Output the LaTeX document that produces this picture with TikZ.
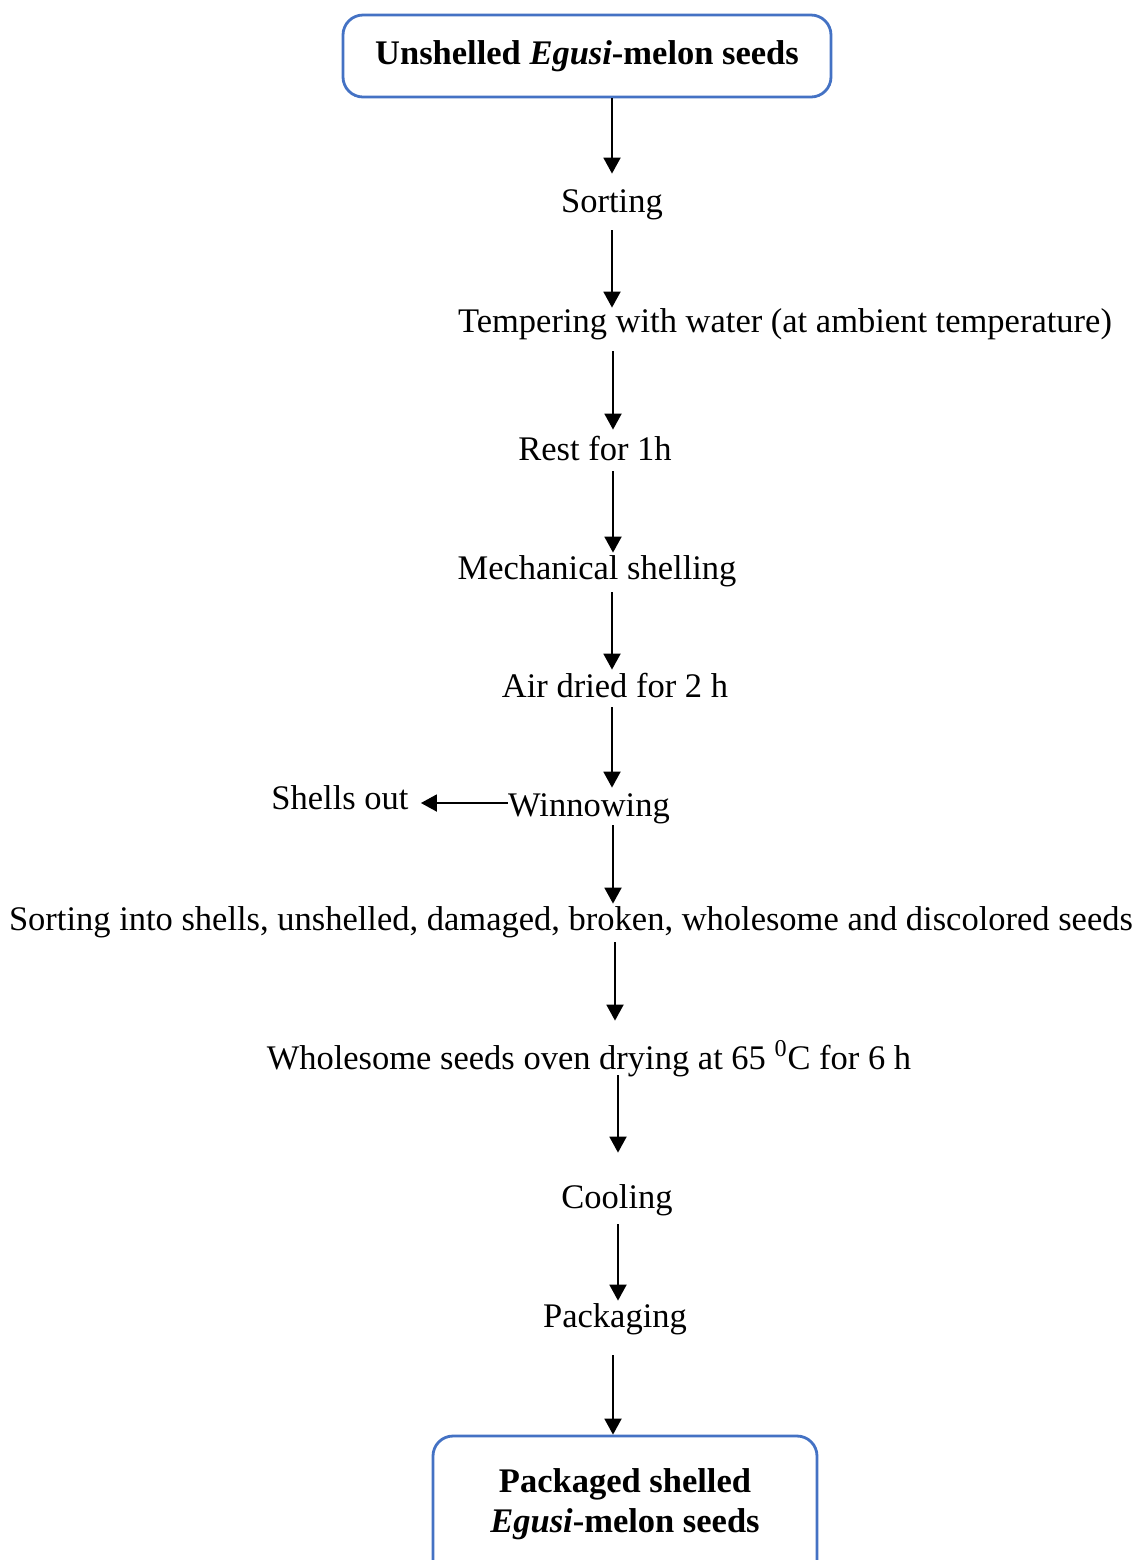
\documentclass[tikz,border=0pt]{standalone}
\usepackage{fontspec}
\setmainfont{Liberation Serif}
\usetikzlibrary{arrows.meta}
\definecolor{boxblue}{HTML}{4472C4}
\tikzset{
  lbl/.style={anchor=base, inner sep=0pt, text height=13pt, text depth=6.5pt, font=\fontsize{17.25}{20}\selectfont},
  flowbox/.style={draw=boxblue, line width=1.4pt, rounded corners=10pt, fill=white, align=center, font=\fontsize{17.25}{20}\selectfont\bfseries},
  arr/.style={line width=0.95pt, -{Triangle[length=8pt,width=8.5pt]}}
}
\begin{document}
\begin{tikzpicture}[x=0.5pt,y=-0.5pt]
\useasboundingbox (0,0) rectangle (1134,1560);
\node[flowbox, minimum width=244pt, minimum height=41pt] (top) at (587,56) {Unshelled \textit{Egusi}-melon seeds};
\node[lbl, text height=19pt, text depth=9pt] (sort) at (612,212) {Sorting};
\node[lbl, text height=12pt, text depth=9.5pt] (temp) at (785,332) {Tempering with water (at ambient temperature)};
\node[lbl, text height=15pt, text depth=5.5pt] (rest) at (595,460) {Rest for 1h};
\node[lbl] (mech) at (597,579) {Mechanical shelling};
\node[lbl, text height=13.5pt, text depth=5pt] (air) at (615,697) {Air dried for 2 h};
\node[lbl, text height=14pt, text depth=4.5pt] (win) at (589,816) {Winnowing};
\node[lbl, inner xsep=6pt] (shells) at (340,809) {Shells out};
\node[lbl, text depth=6pt] (sortinto) at (571,930) {Sorting into shells, unshelled, damaged, broken, wholesome and discolored seeds};
\node[lbl, text height=24pt, text depth=3pt] (whole) at (589,1069) {Wholesome seeds oven drying at 65 \textsuperscript{0}C for 6 h};
\node[lbl, text height=27.5pt, text depth=8pt] (cool) at (617,1208) {Cooling};
\node[lbl, text depth=14pt] (pack) at (615,1327) {Packaging};
\begin{scope}
\clip (0,0) rectangle (1134,1560);
\node[flowbox, minimum width=192pt, minimum height=72pt, text depth=7.5pt] (final) at (625,1508) {Packaged shelled\\\textit{Egusi}-melon seeds};
\end{scope}
\coordinate (xa) at (612,0);
\coordinate (xb) at (613,0);
\coordinate (xc) at (615,0);
\coordinate (xd) at (618,0);
\coordinate (hy) at (0,803);
\draw[arr] (top.south -| xa) -- (sort.north -| xa);
\draw[arr] (sort.south -| xa) -- (temp.north -| xa);
\draw[arr] (temp.south -| xb) -- (rest.north -| xb);
\draw[arr] (rest.south -| xb) -- (mech.north -| xb);
\draw[arr] (mech.south -| xa) -- (air.north -| xa);
\draw[arr] (air.south -| xa) -- (win.north -| xa);
\draw[arr] (win.south -| xb) -- (sortinto.north -| xb);
\draw[arr] (sortinto.south -| xc) -- (whole.north -| xc);
\draw[arr] (whole.south -| xd) -- (cool.north -| xd);
\draw[arr] (cool.south -| xd) -- (pack.north -| xd);
\draw[arr] (pack.south -| xb) -- (final.north -| xb);
\draw[arr] (win.west |- hy) -- (shells.east |- hy);
\end{tikzpicture}
\end{document}
